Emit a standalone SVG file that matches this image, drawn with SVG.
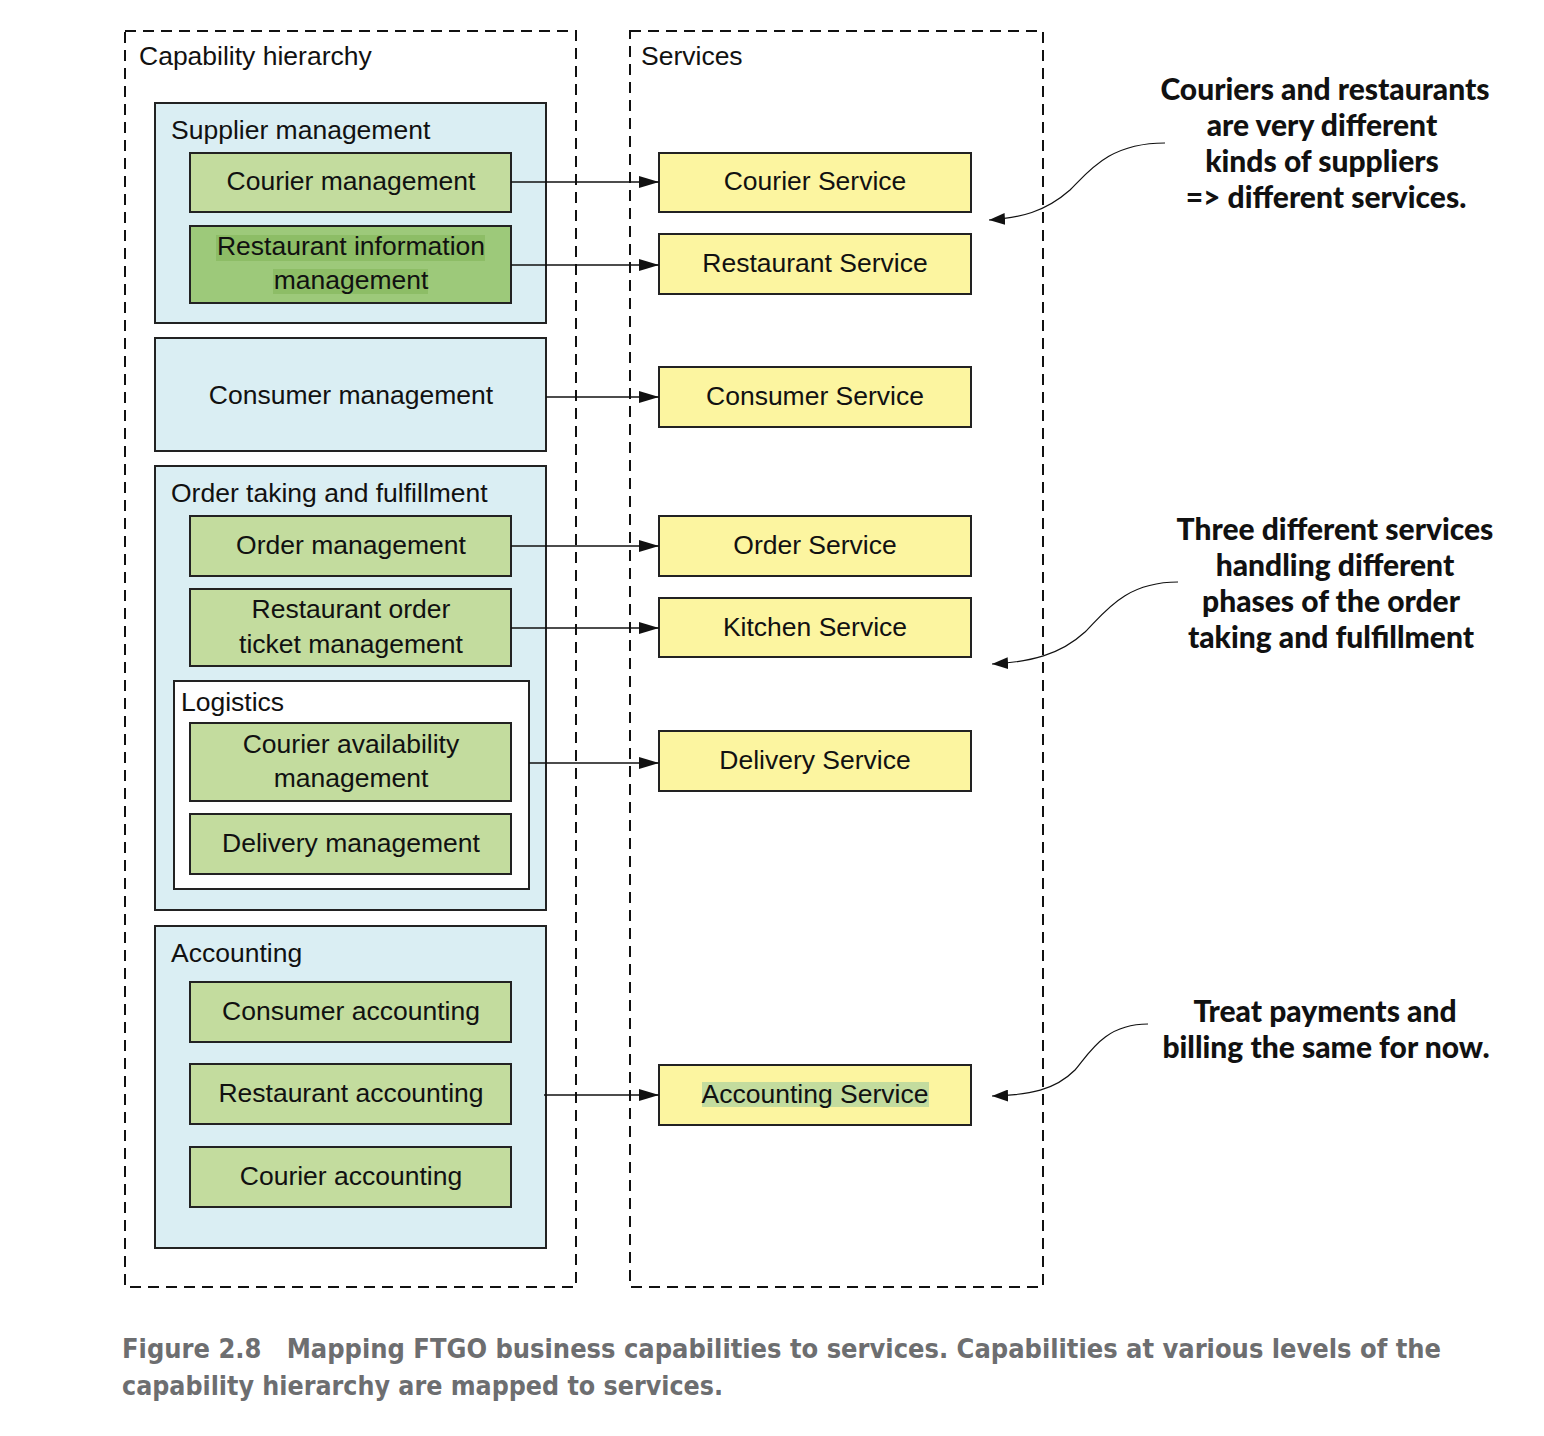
<svg xmlns="http://www.w3.org/2000/svg" width="1544" height="1436" viewBox="0 0 1544 1436">
<defs>
<marker id="ah" viewBox="0 0 20 12" refX="20" refY="6" markerWidth="20" markerHeight="12" markerUnits="userSpaceOnUse" orient="auto">
<path d="M0,0 L20,6 L0,12 Z" fill="#111"/>
</marker>
<marker id="ah2" viewBox="0 0 16 12" refX="16" refY="6" markerWidth="16" markerHeight="12" markerUnits="userSpaceOnUse" orient="auto">
<path d="M0,0 L16,6 L0,12 Z" fill="#111"/>
</marker>
</defs>
<style>
.dash{fill:none;stroke:#111;stroke-width:2;stroke-dasharray:11 7}
.grp{fill:#daeef3;stroke:#222;stroke-width:2}
.cap{fill:#c3dc9e;stroke:#222;stroke-width:2}
.cap2{fill:#9dc97a;stroke:#222;stroke-width:2}
.svc{fill:#fcf5a0;stroke:#222;stroke-width:2}
.wht{fill:#fff;stroke:#222;stroke-width:2}
text{font-family:"Liberation Sans",Arial,sans-serif;font-size:26.5px;fill:#111}
.c{text-anchor:middle}
.ann{font-family:Lato,"Open Sans",sans-serif;font-weight:900;font-size:30px;text-anchor:middle;fill:#111}
.capt{font-family:"DejaVu Sans Condensed","DejaVu Sans",sans-serif;font-weight:bold;font-size:27px;fill:#6d6e70}
.conn{fill:none;stroke:#111;stroke-width:1.6}
.curve{fill:none;stroke:#111;stroke-width:1.2}
</style>
<rect width="1544" height="1436" fill="#fff"/>

<g id="capability-hierarchy">
<rect class="dash" x="125" y="31" width="451" height="1256"/>
<text x="139" y="65">Capability hierarchy</text>
</g>
<g id="services">
<rect class="dash" x="630" y="31" width="413" height="1256"/>
<text x="641" y="65">Services</text>
</g>

<g id="supplier-management">
<rect class="grp" x="155" y="103" width="391" height="220"/>
<text x="171" y="139">Supplier management</text>
</g>
<g id="courier-management">
<rect class="cap" x="190" y="153" width="321" height="59"/>
<text class="c" x="351" y="190">Courier management</text>
</g>
<g id="restaurant-information-management">
<rect class="cap2" x="190" y="226" width="321" height="77"/>
<rect x="216" y="235" width="269" height="26" fill="#8dbd66"/>
<rect x="273" y="269" width="155" height="25" fill="#8dbd66"/>
<text class="c" x="351" y="255">Restaurant information</text>
<text class="c" x="351" y="289">management</text>
</g>

<g id="consumer-management">
<rect class="grp" x="155" y="338" width="391" height="113"/>
<text class="c" x="351" y="404">Consumer management</text>
</g>

<g id="order-taking">
<rect class="grp" x="155" y="466" width="391" height="444"/>
<text x="171" y="502">Order taking and fulfillment</text>
</g>
<g id="order-management">
<rect class="cap" x="190" y="516" width="321" height="60"/>
<text class="c" x="351" y="554">Order management</text>
</g>
<g id="restaurant-order-ticket-management">
<rect class="cap" x="190" y="589" width="321" height="77"/>
<text class="c" x="351" y="618">Restaurant order</text>
<text class="c" x="351" y="653">ticket management</text>
</g>
<g id="logistics">
<rect class="wht" x="174" y="681" width="355" height="208"/>
<text x="181" y="711">Logistics</text>
</g>
<g id="courier-availability-management">
<rect class="cap" x="190" y="723" width="321" height="78"/>
<text class="c" x="351" y="753">Courier availability</text>
<text class="c" x="351" y="787">management</text>
</g>
<g id="delivery-management">
<rect class="cap" x="190" y="814" width="321" height="60"/>
<text class="c" x="351" y="852">Delivery management</text>
</g>

<g id="accounting">
<rect class="grp" x="155" y="926" width="391" height="322"/>
<text x="171" y="962">Accounting</text>
</g>
<g id="consumer-accounting">
<rect class="cap" x="190" y="982" width="321" height="60"/>
<text class="c" x="351" y="1020">Consumer accounting</text>
</g>
<g id="restaurant-accounting">
<rect class="cap" x="190" y="1064" width="321" height="60"/>
<text class="c" x="351" y="1102">Restaurant accounting</text>
</g>
<g id="courier-accounting">
<rect class="cap" x="190" y="1147" width="321" height="60"/>
<text class="c" x="351" y="1185">Courier accounting</text>
</g>

<g id="courier-service">
<rect class="svc" x="659" y="153" width="312" height="59"/>
<text class="c" x="815" y="190">Courier Service</text>
</g>
<g id="restaurant-service">
<rect class="svc" x="659" y="234" width="312" height="60"/>
<text class="c" x="815" y="272">Restaurant Service</text>
</g>
<g id="consumer-service">
<rect class="svc" x="659" y="367" width="312" height="60"/>
<text class="c" x="815" y="405">Consumer Service</text>
</g>
<g id="order-service">
<rect class="svc" x="659" y="516" width="312" height="60"/>
<text class="c" x="815" y="554">Order Service</text>
</g>
<g id="kitchen-service">
<rect class="svc" x="659" y="598" width="312" height="59"/>
<text class="c" x="815" y="636">Kitchen Service</text>
</g>
<g id="delivery-service">
<rect class="svc" x="659" y="731" width="312" height="60"/>
<text class="c" x="815" y="769">Delivery Service</text>
</g>
<g id="accounting-service">
<rect class="svc" x="659" y="1065" width="312" height="60"/>
<rect x="702" y="1082" width="227" height="25" fill="#c3dc9e"/>
<text class="c" x="815" y="1103">Accounting Service</text>
</g>

<g id="connectors">
<line class="conn" x1="511" y1="182" x2="659" y2="182" marker-end="url(#ah)"/>
<line class="conn" x1="511" y1="265" x2="659" y2="265" marker-end="url(#ah)"/>
<line class="conn" x1="546" y1="397" x2="659" y2="397" marker-end="url(#ah)"/>
<line class="conn" x1="511" y1="546" x2="659" y2="546" marker-end="url(#ah)"/>
<line class="conn" x1="511" y1="628" x2="659" y2="628" marker-end="url(#ah)"/>
<line class="conn" x1="529" y1="763" x2="659" y2="763" marker-end="url(#ah)"/>
<line class="conn" x1="544" y1="1095" x2="659" y2="1095" marker-end="url(#ah)"/>
<path class="curve" d="M1165,143 C1110,143 1090,170 1070,190 C1045,212 1020,218 989,220" marker-end="url(#ah2)"/>
<path class="curve" d="M1178,582 C1125,582 1105,612 1085,632 C1060,655 1030,662 992,664" marker-end="url(#ah2)"/>
<path class="curve" d="M1148,1024 C1105,1024 1090,1052 1075,1070 C1055,1090 1030,1095 992,1096" marker-end="url(#ah2)"/>
</g>

<g id="annotations">
<text class="ann" x="1325" y="100">Couriers and restaurants</text>
<text class="ann" x="1322" y="136">are very different</text>
<text class="ann" x="1322" y="172">kinds of suppliers</text>
<text class="ann" x="1326" y="208">=&gt; different services.</text>
<text class="ann" x="1335" y="540">Three different services</text>
<text class="ann" x="1335" y="576">handling different</text>
<text class="ann" x="1331" y="612">phases of the order</text>
<text class="ann" x="1331" y="648">taking and fulfillment</text>
<text class="ann" x="1325" y="1022">Treat payments and</text>
<text class="ann" x="1326" y="1058">billing the same for now.</text>
</g>

<g id="caption">
<text class="capt" x="122" y="1358" textLength="1319" lengthAdjust="spacingAndGlyphs" xml:space="preserve">Figure 2.8   Mapping FTGO business capabilities to services. Capabilities at various levels of the</text>
<text class="capt" x="122" y="1395" textLength="601" lengthAdjust="spacingAndGlyphs">capability hierarchy are mapped to services.</text>
</g>
</svg>
